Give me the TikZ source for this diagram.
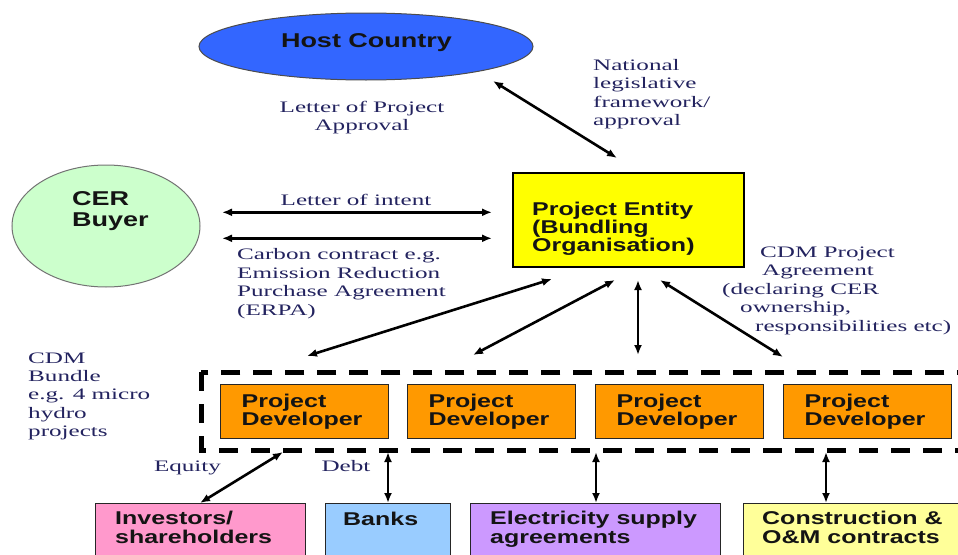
\documentclass[tikz,border=0pt]{standalone}
\usepackage{fontspec}
\usetikzlibrary{arrows.meta,shapes.geometric}
\newfontfamily\sanb[FakeStretch=1.35]{Liberation Sans}
\newfontfamily\serl[FakeStretch=1.57]{Liberation Serif}
\definecolor{hostblue}{RGB}{51,102,255}
\definecolor{cergreen}{RGB}{204,255,204}
\definecolor{peyellow}{RGB}{255,255,0}
\definecolor{devorange}{RGB}{255,153,0}
\definecolor{invpink}{RGB}{255,153,204}
\definecolor{bankblue}{RGB}{153,204,255}
\definecolor{elecpurple}{RGB}{204,153,255}
\definecolor{conyellow}{RGB}{255,255,153}
\definecolor{lblnavy}{RGB}{35,35,95}
\definecolor{txtdark}{RGB}{20,20,20}
\tikzset{
  lbl/.style={font=\serl\fontsize{16}{18.4}\selectfont, text=lblnavy, inner sep=0pt},
  btx/.style={font=\sanb\bfseries\fontsize{18.5}{18.3}\selectfont, text=txtdark, inner sep=0pt, align=left},
  bigtx/.style={font=\sanb\bfseries\fontsize{20}{21}\selectfont, text=txtdark, inner sep=0pt, align=left},
  arr/.style={{Latex[length=10pt,width=8pt]}-{Latex[length=10pt,width=8pt]}, line width=2.6pt, black},
  box/.style={draw=black!85, line width=1.3pt, anchor=north west, inner sep=0pt, minimum height=60pt},
  devbox/.style={draw=black!85, line width=1.3pt, anchor=north west, fill=devorange,
     minimum width=168pt, minimum height=54pt, text width=126pt, inner xsep=21pt, inner ysep=0pt,
     align=left, font=\sanb\bfseries\fontsize{18.5}{18.3}\selectfont, text=txtdark},
  bundlebox/.style={draw=black, line width=5pt, dash pattern=on 19pt off 13pt},
}
\begin{document}
\begin{tikzpicture}[x=1pt,y=-1pt]
\path[use as bounding box] (0,0) rectangle (958,554);
\clip (0,0) rectangle (958,554);

% main shapes
\node[ellipse, draw=black!70, line width=1pt, fill=hostblue, minimum width=334pt, minimum height=67pt, inner sep=0pt] (host) at (366,46.5) {};
\node[bigtx, anchor=base] (hosttxt) at (366.5,47.3) {Host Country};

\node[ellipse, draw=black!55, line width=1pt, fill=cergreen, minimum width=188pt, minimum height=122pt, inner sep=0pt] (cer) at (106,226) {};
\node[bigtx, anchor=base west] (certxt) at (72,226.7) {CER\\Buyer};

\node[box, fill=peyellow, draw=black, line width=1.6pt, minimum width=231pt, minimum height=94pt] (pe) at (512,172) {};
\node[btx, anchor=base west] (petxt) at (532,251.7) {Project Entity\\(Bundling\\Organisation)};

% bundle
\draw[bundlebox] (201,372.3) rectangle (975,450);
\node[devbox] (d1) at (220,384) {Project\\Developer};
\node[devbox] (d2) at (407,384) {Project\\Developer};
\node[devbox] (d3) at (595,384) {Project\\Developer};
\node[devbox] (d4) at (783,384) {Project\\Developer};

% bottom boxes
\node[box, fill=invpink, minimum width=210pt] (inv) at (95,503) {};
\node[box, fill=bankblue, minimum width=125pt] (bank) at (325,503) {};
\node[box, fill=elecpurple, minimum width=250pt] (elec) at (470,503) {};
\node[box, fill=conyellow, minimum width=225pt] (cons) at (743,503) {};
\node[btx, anchor=base west] (invtxt) at (115,543) {Investors/\\shareholders};
\node[btx, anchor=base west] (banktxt) at (343,525) {Banks};
\node[btx, anchor=base west] (electxt) at (490,543) {Electricity supply\\agreements};
\node[btx, anchor=base west] (constxt) at (762,543) {Construction \&\\O\&M contracts};

% connector ends
\coordinate (hostE) at (493,81);   \coordinate (peH) at (617,158);
\coordinate (cerA) at (222,212.3); \coordinate (peA) at (492,212.3);
\coordinate (cerB) at (222,238.3); \coordinate (peB) at (492,238.3);
\coordinate (pe1) at (552,279);    \coordinate (d1t) at (307,356);
\coordinate (pe2) at (615,280);    \coordinate (d2t) at (473,355);
\coordinate (pe3) at (638,280);    \coordinate (d3t) at (638,355);
\coordinate (pe4) at (660,280);    \coordinate (d4t) at (783,357);
\coordinate (d1b) at (283,452);    \coordinate (invt) at (200,503);
\coordinate (d2b) at (388,452);    \coordinate (bankt) at (388,503);
\coordinate (d3b) at (596,452);    \coordinate (elect) at (596,503);
\coordinate (d4b) at (826,452);    \coordinate (const) at (826,503);

\draw[arr] (hostE) -- (peH);
\draw[arr] (cerA) -- (peA);
\draw[arr] (cerB) -- (peB);
\draw[arr] (d1t) -- (pe1);
\draw[arr] (d2t) -- (pe2);
\draw[arr] (d3t) -- (pe3);
\draw[arr] (d4t) -- (pe4);
\draw[arr] (d1b) -- (invt);
\draw[arr] (d2b) -- (bankt);
\draw[arr] (d3b) -- (elect);
\draw[arr] (d4b) -- (const);

% labels
\node[lbl, anchor=base, align=center] (lopa) at (362,130.7) {Letter of Project\\Approval};
\node[lbl, anchor=base west, align=left] (nlf) at (593,125.7) {National\\legislative\\framework/\\approval};
\node[lbl, anchor=base] (loi) at (356,205.7) {Letter of intent};
\node[lbl, anchor=base west, align=left] (cc) at (237,315) {Carbon contract e.g.\\Emission Reduction\\Purchase Agreement\\(ERPA)};
\node[lbl, anchor=base west, align=left] (cdmpa) at (722,331) {\hspace*{38pt}CDM Project\\\hspace*{40pt}Agreement\\(declaring CER\\\hspace*{18pt}ownership,\\\hspace*{33pt}responsibilities etc)};
\node[lbl, anchor=base west, align=left] (cdmb) at (28,436.7) {CDM\\Bundle\\e.g. 4 micro\\hydro\\projects};
\node[lbl, anchor=base] (eq) at (187.5,471.7) {Equity};
\node[lbl, anchor=base] (debt) at (346,471.7) {Debt};
\end{tikzpicture}
\end{document}
